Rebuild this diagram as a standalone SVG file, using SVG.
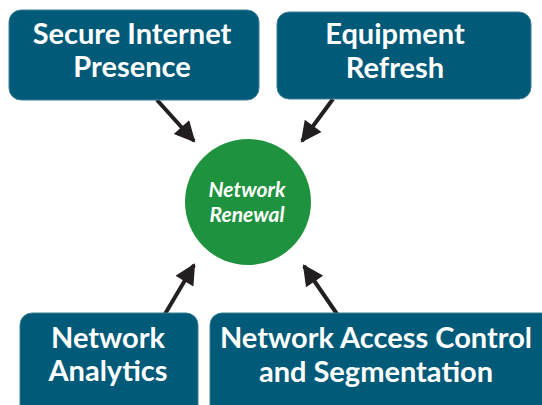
<svg xmlns="http://www.w3.org/2000/svg" width="542" height="405" viewBox="0 0 542 405">
<defs>
<style>
.box{fill:#025a79;stroke:#3f7f96;stroke-width:1}
.bt{font-family:Lato,"Open Sans",sans-serif;font-weight:bold;font-size:29px;fill:#ffffff;text-anchor:middle}
.ct{font-family:Lato,"Open Sans",sans-serif;font-weight:bold;font-style:italic;font-size:21px;fill:#ffffff;text-anchor:middle}
.conn{stroke:#231f20;stroke-width:4;fill:none;marker-end:url(#ah)}
</style>
<marker id="ah" viewBox="0 0 10 10" refX="9" refY="5" markerWidth="5.5" markerHeight="5.2" orient="auto" markerUnits="strokeWidth">
<path d="M0,0 L10,5 L0,10 z" fill="#231f20"/>
</marker>
</defs>
<rect width="542" height="405" fill="#ffffff"/>
<g id="connectors">
<line class="conn" x1="157" y1="100" x2="194" y2="141"/>
<line class="conn" x1="333" y1="99" x2="302" y2="141"/>
<line class="conn" x1="165" y1="314" x2="194" y2="265"/>
<line class="conn" x1="337" y1="314" x2="304" y2="266"/>
</g>
<g id="secure-internet">
<rect class="box" x="9" y="10" width="250" height="90" rx="12"/>
<text class="bt" x="132" y="44">Secure Internet</text>
<text class="bt" x="132" y="77">Presence</text>
</g>
<g id="equipment-refresh">
<rect class="box" x="277" y="12" width="254" height="87" rx="12"/>
<text class="bt" x="395" y="44">Equipment</text>
<text class="bt" x="395" y="78">Refresh</text>
</g>
<g id="network-renewal">
<circle cx="248" cy="202" r="63" fill="#1f923f"/>
<text class="ct" x="247" y="197">Network</text>
<text class="ct" x="247" y="222">Renewal</text>
</g>
<g id="network-analytics">
<rect class="box" x="20" y="313" width="178" height="110" rx="12"/>
<text class="bt" x="108" y="348">Network</text>
<text class="bt" x="108" y="381">Analytics</text>
</g>
<g id="nac">
<rect class="box" x="210" y="313" width="345" height="110" rx="12"/>
<text class="bt" x="376" y="348">Network Access Control</text>
<text class="bt" x="376" y="382">and Segmentation</text>
</g>
</svg>
